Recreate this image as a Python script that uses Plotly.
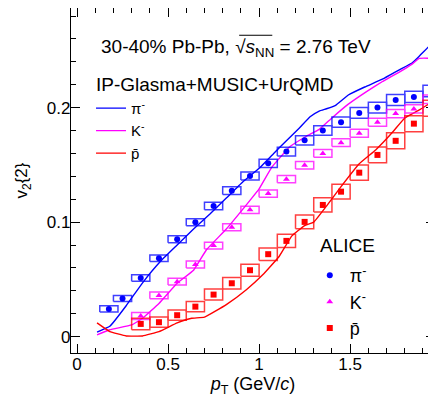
import plotly.graph_objects as go

# ---- ALICE data ----
pi_pt = [0.175, 0.25, 0.35, 0.45, 0.55, 0.65, 0.75, 0.85, 0.95, 1.05, 1.15, 1.25, 1.35, 1.45, 1.55, 1.65, 1.75, 1.85, 1.95]
pi_v2 = [0.0242, 0.0333, 0.0512, 0.0685, 0.085, 0.0999, 0.1141, 0.1275, 0.1403, 0.1514, 0.1616, 0.1714, 0.180, 0.1873, 0.1954, 0.200, 0.2066, 0.2093, 0.2145]
pi_sys = [0.0027, 0.0027, 0.0028, 0.0028, 0.003, 0.003, 0.0032, 0.0033, 0.0035, 0.0036, 0.0038, 0.004, 0.0042, 0.0044, 0.0046, 0.0047, 0.0048, 0.0049, 0.005]

k_pt = [0.35, 0.45, 0.55, 0.65, 0.75, 0.85, 0.95, 1.05, 1.15, 1.25, 1.35, 1.45, 1.55, 1.65, 1.75, 1.85, 1.95]
k_v2 = [0.018, 0.036, 0.048, 0.063, 0.0795, 0.0955, 0.1107, 0.1249, 0.1375, 0.1497, 0.160, 0.1694, 0.1776, 0.1872, 0.1948, 0.1989, 0.2073]
k_sys = [0.003, 0.003, 0.003, 0.003, 0.003, 0.0031, 0.0031, 0.0032, 0.0032, 0.0033, 0.0034, 0.0034, 0.0035, 0.0035, 0.0036, 0.0036, 0.0037]

p_pt = [0.35, 0.45, 0.55, 0.65, 0.75, 0.85, 0.95, 1.05, 1.15, 1.25, 1.35, 1.45, 1.55, 1.65, 1.75, 1.85, 1.95]
p_v2 = [0.0111, 0.0126, 0.0187, 0.0262, 0.0367, 0.0466, 0.058, 0.072, 0.0836, 0.1002, 0.115, 0.1266, 0.1432, 0.1587, 0.171, 0.186, 0.1995]
p_sys = [0.005, 0.0045, 0.0045, 0.0045, 0.0048, 0.005, 0.0052, 0.0055, 0.0057, 0.006, 0.0062, 0.0064, 0.0066, 0.0068, 0.007, 0.007, 0.007]

box_halfwidth = 0.05

# ---- IP-Glasma+MUSIC+UrQMD model ----
m_pi_pt = [0.11, 0.18, 0.27, 0.36, 0.46, 0.55, 0.64, 0.73, 0.82, 0.91, 1.0, 1.08, 1.15, 1.22, 1.28, 1.33, 1.37, 1.42, 1.49, 1.58, 1.68, 1.77, 1.84, 1.88, 1.93, 1.97]
m_pi_v2 = [0.004, 0.009, 0.027, 0.047, 0.066, 0.080, 0.094, 0.107, 0.121, 0.135, 0.147, 0.160, 0.171, 0.182, 0.192, 0.197, 0.199, 0.202, 0.211, 0.218, 0.225, 0.233, 0.239, 0.245, 0.253, 0.258]

m_k_pt = [0.11, 0.18, 0.3, 0.36, 0.45, 0.55, 0.64, 0.71, 0.82, 0.95, 1.0, 1.07, 1.17, 1.26, 1.33, 1.4, 1.49, 1.59, 1.68, 1.77, 1.84, 1.88, 1.97]
m_k_v2 = [0.0015, 0.006, 0.0102, 0.016, 0.029, 0.0466, 0.058, 0.0757, 0.094, 0.119, 0.129, 0.148, 0.166, 0.175, 0.181, 0.191, 0.203, 0.214, 0.223, 0.231, 0.238, 0.243, 0.243]

m_p_pt = [0.11, 0.18, 0.27, 0.36, 0.45, 0.55, 0.63, 0.7, 0.82, 0.93, 1.02, 1.11, 1.18, 1.25, 1.3, 1.37, 1.45, 1.55, 1.64, 1.73, 1.8, 1.88, 1.96]
m_p_v2 = [0.012, 0.0044, 0.0006, 0.0006, 0.0044, 0.012, 0.016, 0.017, 0.028, 0.041, 0.054, 0.070, 0.088, 0.097, 0.100, 0.114, 0.131, 0.151, 0.163, 0.178, 0.191, 0.198, 0.206]

x_ticks = [0, 0.5, 1, 1.5]
x_ticktext = ["0", "0.5", "1", "1.5"]
y_ticks = [0, 0.1, 0.2]
y_ticktext = ["0", "0.1", "0.2"]

BLUE = "#0000ff"
MAG = "#ff00ff"
RED = "#ff0000"
FONT = "Liberation Sans, Arial, Helvetica, sans-serif"

fig = go.Figure()


def boxes(xs, ys, es, hw):
    bx, by = [], []
    for x, y, e in zip(xs, ys, es):
        bx += [x - hw, x + hw, x + hw, x - hw, x - hw, None]
        by += [y - e, y - e, y + e, y + e, y - e, None]
    return bx, by


# model curves
for xs, ys, col, name in [(m_pi_pt, m_pi_v2, BLUE, "π<sup>-</sup>"),
                          (m_k_pt, m_k_v2, MAG, "K<sup>-</sup>"),
                          (m_p_pt, m_p_v2, RED, "p̄")]:
    fig.add_trace(go.Scatter(x=xs, y=ys, mode="lines", line=dict(color=col, width=1.4, shape="spline", smoothing=0.3),
                             name=name, legend="legend", hoverinfo="skip"))

# systematic boxes
for xs, ys, es, col in [(pi_pt, pi_v2, pi_sys, BLUE), (k_pt, k_v2, k_sys, MAG), (p_pt, p_v2, p_sys, RED)]:
    bx, by = boxes(xs, ys, es, box_halfwidth)
    fig.add_trace(go.Scatter(x=bx, y=by, mode="lines", line=dict(color=col, width=1.5), opacity=0.75,
                             showlegend=False, hoverinfo="skip"))

# data points
for xs, ys, col, sym, sz, name in [(pi_pt, pi_v2, BLUE, "circle", 6, "π<sup>-</sup>"),
                                   (k_pt, k_v2, MAG, "triangle-up", 6, "K<sup>-</sup>"),
                                   (p_pt, p_v2, RED, "square", 6, "p̄")]:
    fig.add_trace(go.Scatter(x=xs, y=ys, mode="markers", marker=dict(color=col, symbol=sym, size=sz, line=dict(width=0)),
                             name=name, legend="legend2"))

axis_common = dict(showgrid=False, zeroline=False, showline=True, linecolor="black", linewidth=1.3,
                   mirror="allticks", ticks="inside", ticklen=9, tickwidth=1.2, tickcolor="black",
                   automargin=False, tickfont=dict(family=FONT, size=17, color="black"))

fig.update_xaxes(range=[-0.033, 1.966], tickvals=x_ticks, ticktext=x_ticktext, ticklabelstandoff=-5,
                 minor=dict(dtick=0.1, ticks="inside", ticklen=5, tickwidth=1, tickcolor="black", tick0=0),
                 title=dict(text="<i>p</i><sub>T</sub> (GeV/<i>c</i>)", font=dict(family=FONT, size=18, color="black"), standoff=6),
                 **axis_common)
fig.update_yaxes(range=[-0.0143, 0.287], tickvals=y_ticks, ticktext=y_ticktext, ticklabelstandoff=-4,
                 minor=dict(dtick=0.02, ticks="inside", ticklen=5, tickwidth=1, tickcolor="black", tick0=0),
                 title=dict(text="v<sub>2</sub>{2}", font=dict(family=FONT, size=17, color="black"), standoff=14),
                 **axis_common)

fig.add_annotation(xref="paper", yref="paper", x=0.078, y=0.884, xanchor="left", yanchor="middle",
                   text="30-40% Pb-Pb, √<i>s</i><sub>NN</sub> = 2.76 TeV",
                   showarrow=False, font=dict(family=FONT, size=19, color="black"))
# overline of the square root
fig.add_shape(type="line", xref="paper", yref="paper", x0=0.462, x1=0.553, y0=0.921, y1=0.921,
              line=dict(color="black", width=1))

# legend headings
fig.add_annotation(xref="paper", yref="paper", x=0.063, y=0.777, xanchor="left", yanchor="middle",
                   text="IP-Glasma+MUSIC+UrQMD", showarrow=False, font=dict(family=FONT, size=19, color="black"))
fig.add_annotation(xref="paper", yref="paper", x=0.679, y=0.313, xanchor="left", yanchor="middle",
                   text="ALICE", showarrow=False, font=dict(family=FONT, size=19, color="black"))

# page body has an 8px default margin: figure is sized to fill the rest of the 436x397 window
fig.update_layout(
    width=428, height=389,
    margin=dict(l=63, r=1, t=0, b=44),
    paper_bgcolor="white", plot_bgcolor="white",
    font=dict(family=FONT, color="black"),
    legend=dict(x=0.055, y=0.757, xanchor="left", yanchor="top", bgcolor="rgba(0,0,0,0)",
                font=dict(family=FONT, size=15), itemwidth=30, tracegroupgap=0),
    legend2=dict(x=0.656, y=0.278, xanchor="left", yanchor="top", bgcolor="rgba(0,0,0,0)",
                 font=dict(family=FONT, size=18), itemwidth=30),
    showlegend=True,
)

fig.write_html("out.html")
